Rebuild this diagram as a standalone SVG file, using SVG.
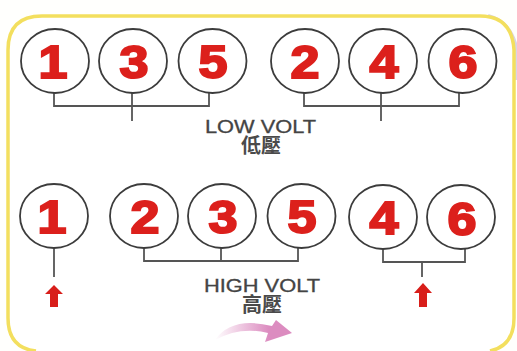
<svg xmlns="http://www.w3.org/2000/svg" width="517" height="351" viewBox="0 0 517 351">
<style>
.c{fill:#fff;stroke:#3c3c3c;stroke-width:1.8}
.n{font-family:"Liberation Sans",Arial,sans-serif;font-weight:bold;font-size:46px;fill:#dc201c;stroke:#dc201c;stroke-width:2;text-anchor:middle}
.w{fill:none;stroke:#555;stroke-width:1.8}
.t{font-family:"Liberation Sans",Arial,sans-serif;font-size:17.500px;fill:#444;stroke:#444;stroke-width:.3;text-anchor:middle}
.z{font-family:"Noto Sans CJK TC","Liberation Sans",sans-serif;font-size:20px;font-weight:bold;fill:#4a4a4a;text-anchor:middle}
.a{fill:#d81e1a}
</style>
<defs>
<linearGradient id="g" x1="0" x2="1" y1="0" y2="0"><stop offset="0" stop-color="#fff"/><stop offset=".7" stop-color="#dc8cc0"/><stop offset="1" stop-color="#dc8cc0"/></linearGradient>
</defs>
<rect width="517" height="351" fill="#fffffd"/>
<path d="M488 16Q512 22 517 52V80" fill="none" stroke="#d8d4e4" stroke-width="4"/>
<path d="M36 351Q8 348 8 318V50Q8 16 42 16H480Q512 16 514 50V318Q514 346 490 351" fill="#fff" stroke="#f3df5e" stroke-width="3.500"/>
<g id="connectors">
<path class="w" d="M54 92V106H209V92M132 92V121"/>
<path class="w" d="M304 92V106H459V92M381 92V121"/>
<path class="w" d="M54 247V277"/>
<path class="w" d="M144 247V261H298V247M221 247V261"/>
<path class="w" d="M383 248V262H465V248M422 262V277"/>
</g>
<g id="n1"><ellipse class="c" cx="55" cy="61" rx="34" ry="32"/><text class="n" x="53" y="78" textLength="29" lengthAdjust="spacingAndGlyphs">1</text></g>
<g id="n3"><ellipse class="c" cx="133" cy="61" rx="34" ry="32"/><text class="n" x="134" y="78" textLength="29" lengthAdjust="spacingAndGlyphs">3</text></g>
<g id="n5"><ellipse class="c" cx="212.500" cy="61" rx="34" ry="32"/><text class="n" x="213" y="78" textLength="29" lengthAdjust="spacingAndGlyphs">5</text></g>
<g id="n2"><ellipse class="c" cx="305" cy="61" rx="34" ry="32"/><text class="n" x="305" y="78" textLength="29" lengthAdjust="spacingAndGlyphs">2</text></g>
<g id="n4"><ellipse class="c" cx="383" cy="61" rx="34" ry="32"/><text class="n" x="384" y="78" textLength="29" lengthAdjust="spacingAndGlyphs">4</text></g>
<g id="n6"><ellipse class="c" cx="462.500" cy="61" rx="34" ry="32"/><text class="n" x="463" y="78" textLength="29" lengthAdjust="spacingAndGlyphs">6</text></g>
<text class="t" x="260.500" y="133" textLength="111" lengthAdjust="spacingAndGlyphs">LOW VOLT</text>
<text class="z" x="261" y="153">低壓</text>
<g id="h1"><ellipse class="c" cx="54" cy="216" rx="34" ry="32"/><text class="n" x="52" y="233" textLength="29" lengthAdjust="spacingAndGlyphs">1</text></g>
<g id="h2"><ellipse class="c" cx="144" cy="216" rx="34" ry="32"/><text class="n" x="145" y="233" textLength="29" lengthAdjust="spacingAndGlyphs">2</text></g>
<g id="h3"><ellipse class="c" cx="222" cy="216" rx="34" ry="32"/><text class="n" x="223" y="233" textLength="29" lengthAdjust="spacingAndGlyphs">3</text></g>
<g id="h5"><ellipse class="c" cx="301.500" cy="216" rx="34" ry="32"/><text class="n" x="302" y="233" textLength="29" lengthAdjust="spacingAndGlyphs">5</text></g>
<g id="h4"><ellipse class="c" cx="383" cy="217" rx="34" ry="32"/><text class="n" x="384" y="234" textLength="29" lengthAdjust="spacingAndGlyphs">4</text></g>
<g id="h6"><ellipse class="c" cx="461" cy="217" rx="34" ry="32"/><text class="n" x="462" y="235" textLength="29" lengthAdjust="spacingAndGlyphs">6</text></g>
<text class="t" x="262" y="292" textLength="116" lengthAdjust="spacingAndGlyphs">HIGH VOLT</text>
<text class="z" x="262" y="312">高壓</text>
<path class="a" d="M54 285L63 294H58V307H50V294H45Z"/>
<path class="a" d="M423 283L432 293H427V307H419V293H414Z"/>
<path d="M215 340Q232 316 272 326L276 320L292 333L265 342L268 333Q240 326 215 340Z" fill="url(#g)"/>
</svg>
